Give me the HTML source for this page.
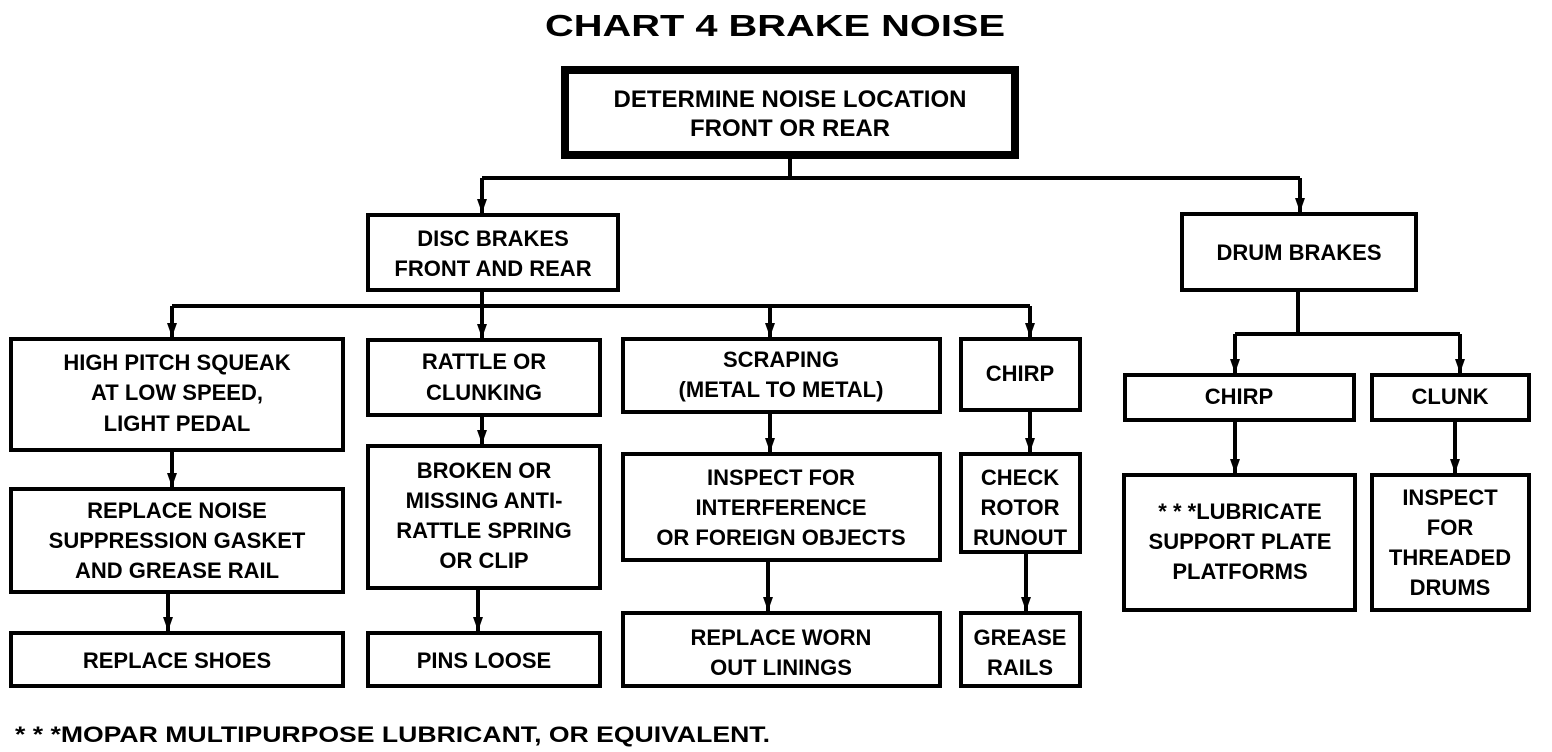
<!DOCTYPE html>
<html><head><meta charset="utf-8"><style>
html,body{margin:0;padding:0;background:#fff;}
svg{display:block;}
text{font-family:"Liberation Sans",sans-serif;font-size:22px;font-weight:bold;fill:#000;text-anchor:middle;}
</style></head><body>
<svg width="1552" height="752" viewBox="0 0 1552 752" xmlns="http://www.w3.org/2000/svg">
<defs><marker id="a" markerWidth="14" markerHeight="10" refX="14" refY="5" orient="auto" markerUnits="userSpaceOnUse"><path d="M0,0 L14,5 L0,10 Z" fill="#000"/></marker></defs>
<text x="775" y="36" style="font-size:31px" textLength="460" lengthAdjust="spacingAndGlyphs">CHART 4    BRAKE NOISE</text>
<g fill="none" stroke="#000">
<rect x="565" y="70" width="450" height="85" stroke-width="8"/>
<g stroke-width="4">
<rect x="368" y="215" width="250" height="75"/>
<rect x="1182" y="214" width="234" height="76"/>
<rect x="11" y="339" width="332" height="111"/>
<rect x="368" y="340" width="232" height="75"/>
<rect x="623" y="339" width="317" height="73"/>
<rect x="961" y="339" width="119" height="71"/>
<rect x="1125" y="375" width="229" height="45"/>
<rect x="1372" y="375" width="157" height="45"/>
<rect x="11" y="489" width="332" height="103"/>
<rect x="368" y="446" width="232" height="142"/>
<rect x="623" y="454" width="317" height="106"/>
<rect x="961" y="454" width="119" height="98"/>
<rect x="1124" y="475" width="231" height="135"/>
<rect x="1372" y="475" width="157" height="135"/>
<rect x="11" y="633" width="332" height="53"/>
<rect x="368" y="633" width="232" height="53"/>
<rect x="623" y="613" width="317" height="73"/>
<rect x="961" y="613" width="119" height="73"/>
<path d="M790 157 V178 M482 178 H1300 M482 178 V213 M1300 178 V212" />
<path d="M482 292 V306 M172 306 H1030"/>
<path d="M1298 292 V334 M1235 334 H1460"/>
</g>
<g stroke-width="4" marker-end="url(#a)">
<path d="M482 178 V213"/><path d="M1300 178 V212"/>
<path d="M172 306 V337"/><path d="M482 306 V338"/><path d="M770 306 V337"/><path d="M1030 306 V337"/>
<path d="M1235 334 V373"/><path d="M1460 334 V373"/>
<path d="M172 452 V487"/><path d="M482 417 V444"/><path d="M770 414 V452"/><path d="M1030 412 V452"/>
<path d="M1235 422 V473"/><path d="M1455 422 V473"/>
<path d="M168 594 V631"/><path d="M478 590 V631"/><path d="M768 562 V611"/><path d="M1026 554 V611"/>
</g>
</g>
<text x="790" y="107" style="font-size:24px">DETERMINE NOISE LOCATION</text>
<text x="790" y="136" style="font-size:24px">FRONT OR REAR</text>
<text x="493" y="246">DISC BRAKES</text>
<text x="493" y="276">FRONT AND REAR</text>
<text x="1299" y="260">DRUM BRAKES</text>
<text x="177" y="370">HIGH PITCH SQUEAK</text>
<text x="177" y="400">AT LOW SPEED,</text>
<text x="177" y="431">LIGHT PEDAL</text>
<text x="484" y="369">RATTLE OR</text>
<text x="484" y="400">CLUNKING</text>
<text x="781" y="367">SCRAPING</text>
<text x="781" y="397">(METAL TO METAL)</text>
<text x="1020" y="381">CHIRP</text>
<text x="1239" y="404">CHIRP</text>
<text x="1450" y="404">CLUNK</text>
<text x="177" y="518">REPLACE NOISE</text>
<text x="177" y="548">SUPPRESSION GASKET</text>
<text x="177" y="578">AND GREASE RAIL</text>
<text x="484" y="478">BROKEN OR</text>
<text x="484" y="508">MISSING ANTI-</text>
<text x="484" y="538">RATTLE SPRING</text>
<text x="484" y="568">OR CLIP</text>
<text x="781" y="485">INSPECT FOR</text>
<text x="781" y="515">INTERFERENCE</text>
<text x="781" y="545">OR FOREIGN OBJECTS</text>
<text x="1020" y="485">CHECK</text>
<text x="1020" y="515">ROTOR</text>
<text x="1020" y="545">RUNOUT</text>
<text x="1240" y="519">* * *LUBRICATE</text>
<text x="1240" y="549">SUPPORT PLATE</text>
<text x="1240" y="579">PLATFORMS</text>
<text x="1450" y="505">INSPECT</text>
<text x="1450" y="535">FOR</text>
<text x="1450" y="565">THREADED</text>
<text x="1450" y="595">DRUMS</text>
<text x="177" y="668">REPLACE SHOES</text>
<text x="484" y="668">PINS LOOSE</text>
<text x="781" y="645">REPLACE WORN</text>
<text x="781" y="675">OUT LININGS</text>
<text x="1020" y="645">GREASE</text>
<text x="1020" y="675">RAILS</text>
<text x="15" y="742" style="text-anchor:start" textLength="755" lengthAdjust="spacingAndGlyphs">* * *MOPAR MULTIPURPOSE LUBRICANT, OR EQUIVALENT.</text>
</svg>
</body></html>
